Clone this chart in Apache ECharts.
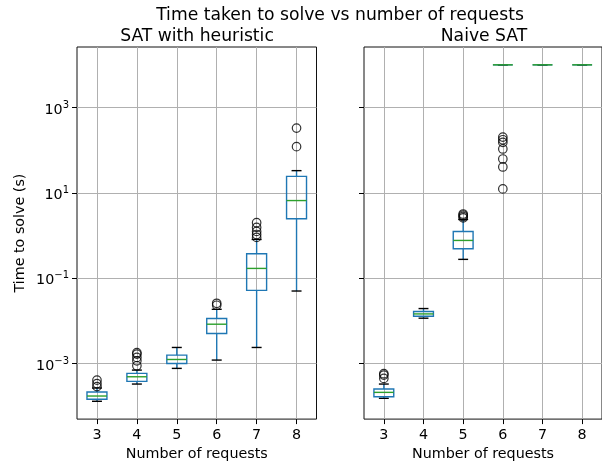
<!DOCTYPE html>
<html>
<head>
<meta charset="utf-8">
<script src="https://cdn.jsdelivr.net/npm/echarts@6/dist/echarts.min.js"></script>
<style>html,body{margin:0;padding:0;background:#fff;}#c{width:602px;height:466px;}</style>
</head>
<body>
<div id="c"></div>
<script>
// Number of requests (x categories)
const categories = [3, 4, 5, 6, 7, 8];
const yTickExponents = [-3, -1, 1, 3];

// Box statistics in seconds: [whisker low, Q1, median, Q3, whisker high]
const heuristicStats = [
  [1.31e-4, 1.46e-4, 1.74e-4, 2.16e-4, 2.68e-4],
  [3.32e-4, 3.84e-4, 4.92e-4, 5.90e-4, 7.05e-4],
  [7.73e-4, 1.01e-3, 1.25e-3, 1.58e-3, 2.39e-3],
  [1.21e-3, 5.08e-3, 8.38e-3, 1.14e-2, 1.87e-2],
  [2.39e-3, 5.21e-2, 0.170, 0.376, 0.811],
  [5.02e-2, 2.47, 6.61, 24.4, 33.2]
];
const heuristicOutliers = [
  [2.9e-4, 3.4e-4, 4.1e-4],
  [8.9e-4, 1.16e-3, 1.40e-3, 1.67e-3, 1.8e-3],
  [],
  [2.33e-2, 2.59e-2],
  [0.904, 1.06, 1.25, 1.55, 2.0],
  [121, 330]
];
const naiveStats = [
  [1.54e-4, 1.67e-4, 2.12e-4, 2.54e-4, 3.32e-4],
  [1.16e-2, 1.29e-2, 1.46e-2, 1.66e-2, 1.95e-2],
  [0.277, 0.492, 0.769, 1.25, 2.38],
  [10000, 10000, 10000, 10000, 10000],
  [10000, 10000, 10000, 10000, 10000],
  [10000, 10000, 10000, 10000, 10000]
];
const naiveOutliers = [
  [4.5e-4, 5.4e-4, 5.8e-4],
  [],
  [2.6, 2.8, 3.0, 3.2],
  [12.4, 40.5, 62.2, 107, 152, 176, 203],
  [],
  []
];

const LOG_MIN = -4.30, LOG_MAX = 4.418;
const FONT = 'DejaVu Sans';

function boxData(stats) {
  return stats.map((s, i) => [categories[i]].concat(s.map(v => Math.log10(v))));
}
function outlierData(outs) {
  const r = [];
  outs.forEach((arr, i) => arr.forEach(v => r.push([categories[i], Math.log10(v)])));
  return r;
}

function renderBox(params, api) {
  const x = api.value(0);
  const pt = v => api.coord([x, v]);
  const pMin = pt(api.value(1)), pQ1 = pt(api.value(2)), pMed = pt(api.value(3)),
        pQ3 = pt(api.value(4)), pMax = pt(api.value(5));
  const bw = api.size([1, 0])[0] * 0.5;
  const cw = bw * 0.5;
  const cx = pMin[0];
  const blue = { stroke: '#1f77b4', lineWidth: 1.4, fill: null };
  const black = { stroke: '#000', lineWidth: 1.4 };
  return {
    type: 'group',
    children: [
      { type: 'line', shape: { x1: cx, y1: pQ1[1], x2: cx, y2: pMin[1] }, style: blue },
      { type: 'line', shape: { x1: cx, y1: pQ3[1], x2: cx, y2: pMax[1] }, style: blue },
      { type: 'line', shape: { x1: cx - cw / 2, y1: pMin[1], x2: cx + cw / 2, y2: pMin[1] }, style: black },
      { type: 'line', shape: { x1: cx - cw / 2, y1: pMax[1], x2: cx + cw / 2, y2: pMax[1] }, style: black },
      { type: 'rect', shape: { x: cx - bw / 2, y: pQ3[1], width: bw, height: pQ1[1] - pQ3[1] },
        style: { stroke: '#1f77b4', fill: 'rgba(0,0,0,0)', lineWidth: 1.4 } },
      { type: 'line', shape: { x1: cx - bw / 2, y1: pMed[1], x2: cx + bw / 2, y2: pMed[1] },
        style: { stroke: '#2ca02c', lineWidth: 1.4 } }
    ]
  };
}

function supLabel(v) {
  const e = v < 0 ? '\u2212' + (-v) : String(v);
  return '{b|10}{s|' + e + '}';
}

const gridLine = { show: true, lineStyle: { color: '#b0b0b0', width: 1 } };

function xAxisFor(gi) {
  return {
    type: 'value', gridIndex: gi, min: 2.5, max: 8.5,
    name: 'Number of requests', nameLocation: 'middle', nameGap: 27,
    nameTextStyle: { fontFamily: FONT, fontSize: 14.3, color: '#000' },
    axisLine: { show: false, onZero: false },
    axisTick: { show: true, customValues: categories, length: 5, inside: false, lineStyle: { color: '#000', width: 1 } },
    axisLabel: { show: true, customValues: categories, margin: 9, fontFamily: FONT, fontSize: 14.3, color: '#000' },
    splitLine: gridLine
  };
}
function yAxisFor(gi, showLabels) {
  return {
    type: 'value', gridIndex: gi, min: LOG_MIN, max: LOG_MAX,
    name: showLabels ? 'Time to solve (s)' : '', nameLocation: 'middle', nameGap: 50,
    nameTextStyle: { fontFamily: FONT, fontSize: 14.3, color: '#000' },
    axisLine: { show: false, onZero: false },
    axisTick: { show: true, customValues: yTickExponents, length: 5, lineStyle: { color: '#000', width: 1 } },
    axisLabel: {
      show: showLabels, customValues: yTickExponents, margin: 8,
      formatter: supLabel, padding: [5, 0, 0, 0],
      rich: {
        b: { fontFamily: FONT, fontSize: 14.3, color: '#000', lineHeight: 20 },
        s: { fontFamily: FONT, fontSize: 10, color: '#000', lineHeight: 12, verticalAlign: 'top' }
      }
    },
    splitLine: gridLine
  };
}

const chart = echarts.init(document.getElementById('c'), null, { renderer: 'canvas' });
chart.setOption({
  animation: false,
  backgroundColor: '#fff',
  grid: [
    { left: 77, top: 47, width: 239.5, height: 373, show: true, borderColor: '#111', borderWidth: 1, backgroundColor: 'transparent' },
    { left: 364, top: 47, width: 240, height: 373, show: true, borderColor: '#111', borderWidth: 1, backgroundColor: 'transparent' }
  ],
  xAxis: [xAxisFor(0), xAxisFor(1)],
  yAxis: [yAxisFor(0, true), yAxisFor(1, false)],
  graphic: [
    { type: 'text', x: 340, y: 15.5, style: { text: 'Time taken to solve vs number of requests', fontFamily: FONT, fontSize: 17.2, fill: '#000', textAlign: 'center', textVerticalAlign: 'middle' } },
    { type: 'text', x: 197, y: 36.5, style: { text: 'SAT with heuristic', fontFamily: FONT, fontSize: 17.2, fill: '#000', textAlign: 'center', textVerticalAlign: 'middle' } },
    { type: 'text', x: 484, y: 36.5, style: { text: 'Naive SAT', fontFamily: FONT, fontSize: 17.2, fill: '#000', textAlign: 'center', textVerticalAlign: 'middle' } }
  ],
  series: [
    { type: 'custom', xAxisIndex: 0, yAxisIndex: 0, renderItem: renderBox, encode: { x: 0, y: [1, 2, 3, 4, 5] }, data: boxData(heuristicStats), z: 3 },
    { type: 'custom', xAxisIndex: 1, yAxisIndex: 1, renderItem: renderBox, encode: { x: 0, y: [1, 2, 3, 4, 5] }, data: boxData(naiveStats), z: 3 },
    { type: 'scatter', xAxisIndex: 0, yAxisIndex: 0, data: outlierData(heuristicOutliers), symbol: 'circle', symbolSize: 8.5,
      itemStyle: { color: 'rgba(0,0,0,0)', borderColor: '#000', borderWidth: 1.2 }, z: 4 },
    { type: 'scatter', xAxisIndex: 1, yAxisIndex: 1, data: outlierData(naiveOutliers), symbol: 'circle', symbolSize: 8.5,
      itemStyle: { color: 'rgba(0,0,0,0)', borderColor: '#000', borderWidth: 1.2 }, z: 4 }
  ]
});
</script>
</body>
</html>
